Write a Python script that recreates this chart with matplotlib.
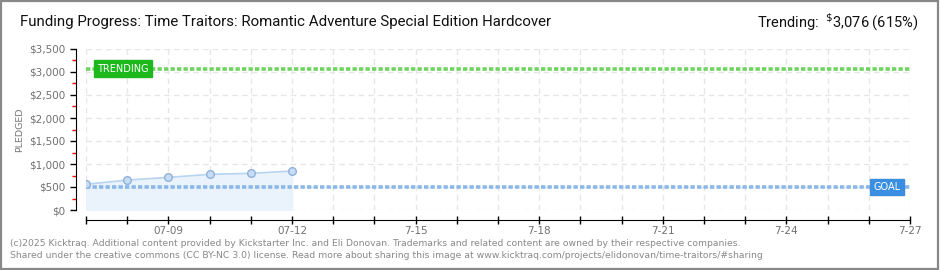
import matplotlib
matplotlib.use("Agg")
import matplotlib.pyplot as plt
import matplotlib.dates as mdates
from matplotlib.patches import Rectangle
import datetime as dt

# data
dates = ["2025-07-07", "2025-07-08", "2025-07-09", "2025-07-10", "2025-07-11", "2025-07-12"]
pledged = [560, 650, 710, 775, 797, 847]
goal = 500
trending = 3076
x_start = "2025-07-07"
x_end = "2025-07-27"
title = "Funding Progress: Time Traitors: Romantic Adventure Special Edition Hardcover"
footer1 = "(c)2025 Kicktraq. Additional content provided by Kickstarter Inc. and Eli Donovan. Trademarks and related content are owned by their respective companies."
footer2 = "Shared under the creative commons (CC BY-NC 3.0) license. Read more about sharing this image at www.kicktraq.com/projects/elidonovan/time-traitors/#sharing"

plt.rcParams['font.family'] = ['DejaVu Sans']

d = [dt.datetime.strptime(s, "%Y-%m-%d") for s in dates]
x0 = dt.datetime.strptime(x_start, "%Y-%m-%d")
x1 = dt.datetime.strptime(x_end, "%Y-%m-%d")

fig = plt.figure(figsize=(9.4, 2.7), dpi=100)
fig.patch.set_facecolor("white")
fig.patches.append(Rectangle((0.001, 0.002), 0.997, 0.995, transform=fig.transFigure,
                             fill=False, edgecolor="#888888", linewidth=1.6))

ax = fig.add_axes([86 / 940, 1 - 210 / 270, (910 - 86) / 940, (210 - 49) / 270])
ax.set_xlim(x0, x1)
ax.set_ylim(0, 3500)

# grid
ax.set_axisbelow(True)
ax.xaxis.set_major_locator(mdates.DayLocator())
ax.yaxis.set_major_locator(plt.MultipleLocator(500))
ax.yaxis.set_minor_locator(plt.MultipleLocator(250))
ax.grid(True, which="major", color="#e6e6e6", linestyle=(0, (4, 3)), linewidth=1)

# labels every 3 days
def fmt(x, pos):
    t = mdates.num2date(x).replace(tzinfo=None)
    day = (t - x0).days
    if day % 3 != 2:
        return ""
    if t.day <= 12:
        return t.strftime("%m-%d")
    return "%d-%d" % (t.month, t.day)
ax.xaxis.set_major_formatter(plt.FuncFormatter(fmt))
ax.yaxis.set_major_formatter(plt.FuncFormatter(lambda v, p: "${:,.0f}".format(v)))

# pledged series
ax.fill_between(d, pledged, 0, color="#eaf2fc", zorder=1)
ax.plot(d, pledged, color="#b8d4f0", linewidth=1.2, zorder=3)
ax.plot(d, pledged, "o", markersize=5.5, markerfacecolor="#c8ddf5",
        markeredgecolor="#8fb2da", markeredgewidth=1, zorder=4)

# goal and trending lines
ax.axhline(goal, color="#8ab8ea", linewidth=2.6, linestyle=(0, (1.2, 0.6)), zorder=2)
ax.axhline(trending, color="#6fd45f", linewidth=2.6, linestyle=(0, (1.2, 0.6)), zorder=2)

ax.text((93 + 4 - 86) / 824, trending, "TRENDING", transform=ax.get_yaxis_transform(), fontsize=7,
        color="white", va="center", ha="left",
        bbox=dict(boxstyle="square,pad=0.35", facecolor="#1cb81c", edgecolor="#1cb81c"), zorder=5)
ax.text((905 - 4 - 86) / 824, goal, "GOAL", transform=ax.get_yaxis_transform(), fontsize=7,
        color="white", va="center", ha="right",
        bbox=dict(boxstyle="square,pad=0.35", facecolor="#3a8ee0", edgecolor="#3a8ee0"), zorder=5)

# spines
for s in ["top", "right"]:
    ax.spines[s].set_visible(False)
ax.spines["left"].set_position(("outward", 7.2))
ax.spines["bottom"].set_position(("outward", 7.2))
ax.tick_params(axis="y", which="major", length=4, width=1, color="black",
               labelsize=7.5, labelcolor="#707070", pad=4)
ax.tick_params(axis="y", which="minor", length=3, width=1, color="red")
ax.tick_params(axis="x", which="major", length=6, width=1, direction="inout",
               labelsize=7.5, labelcolor="#707070", pad=1)

ax.set_ylabel("PLEDGED", fontsize=6.8, color="#777777")
ax.yaxis.set_label_coords(-(86 - 24) / 824, 0.5)

t_title = fig.text(20 / 940, 1 - 22 / 270, title, fontsize=12, va="center", ha="left",
                   color="#111111", family="Roboto")
t_trend = fig.text(918 / 940, 1 - 22 / 270, r"Trending:  $^{\$}$3,076 (615%)", fontsize=12,
                   va="center", ha="right", color="#111111", family="Roboto")
fig.text(10 / 940, 1 - 243 / 270, footer1, fontsize=6.7, color="#888888", va="center", ha="left")
fig.text(10 / 940, 1 - 256 / 270, footer2, fontsize=6.7, color="#888888", va="center", ha="left")

# fit header widths to the reference
r = fig.canvas.get_renderer()
for t, w in [(t_title, 530), (t_trend, 161)]:
    cur = t.get_window_extent(r).width
    t.set_fontsize(t.get_fontsize() * w / cur)

fig.savefig("out.png", dpi=100)
